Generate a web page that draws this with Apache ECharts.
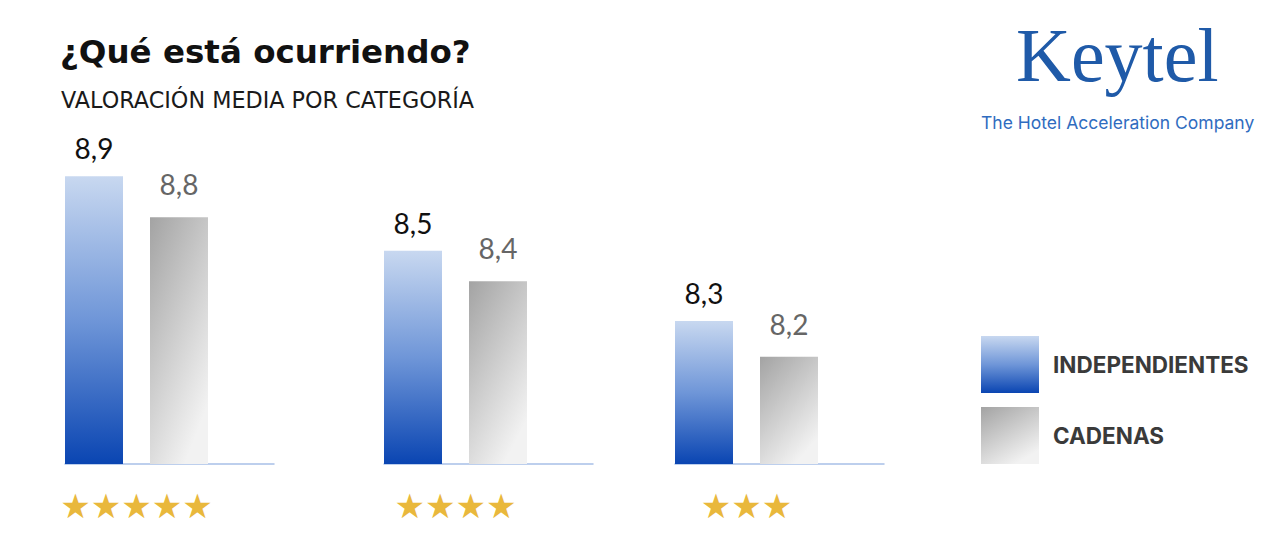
<!DOCTYPE html>
<html>
<head>
<meta charset="utf-8">
<script src="https://cdn.jsdelivr.net/npm/echarts@6/dist/echarts.min.js"></script>
<style>html,body{margin:0;padding:0;background:#fff;}#c{width:1288px;height:560px;}</style>
</head>
<body>
<div id="c"></div>
<script>
// ---- data ----
const categories = ['★★★★★', '★★★★', '★★★'];
const seriesNames = ['INDEPENDIENTES', 'CADENAS'];
const independientes = [8.9, 8.5, 8.3];
const cadenas = [8.8, 8.4, 8.2];
const titleText = '¿Qué está ocurriendo?';
const subtitleText = 'VALORACIÓN MEDIA POR CATEGORÍA';
const logoText = 'Keytel';
const taglineText = 'The Hotel Acceleration Company';

// ---- layout / scale settings (one grid per star category) ----
const gridLeft = [65, 384, 675];
const gridTop = [135, 129, 142];
const yMin = [8.2, 7.8, 7.9];
const yMax = [9.0, 8.9, 8.8];

const blueGrad = new echarts.graphic.LinearGradient(0, 0, 0, 1, [
  { offset: 0, color: '#c8d8f0' }, { offset: 0.5, color: '#6f96d8' }, { offset: 1, color: '#0a45b2' }]);
const grayGrad = new echarts.graphic.LinearGradient(0, 0, 0.6, 1, [
  { offset: 0, color: '#a3a3a3' }, { offset: 1, color: '#f2f2f2' }]);

const fmt = p => String(p.value).replace('.', ',');
const grids = [], xAxes = [], yAxes = [], series = [];
categories.forEach((cat, i) => {
  grids.push({ left: gridLeft[i], width: 209, top: gridTop[i], bottom: 96 });
  xAxes.push({
    type: 'category', gridIndex: i, data: [cat],
    axisLine: { lineStyle: { color: '#a8c0e8', width: 1.5 } },
    axisTick: { show: false },
    axisLabel: { color: '#e9b83c', fontSize: 34, fontFamily: 'DejaVu Sans', margin: 25, padding: [0, 66, 0, 0] }
  });
  yAxes.push({ type: 'value', gridIndex: i, min: yMin[i], max: yMax[i], show: false, splitLine: { show: false } });
  series.push({
    name: seriesNames[0], type: 'bar', xAxisIndex: i, yAxisIndex: i, data: [independientes[i]],
    barWidth: 58, barGap: '46.55%', itemStyle: { color: blueGrad },
    label: { show: true, position: 'top', distance: 14, formatter: fmt, fontSize: 28, color: '#111', fontFamily: 'Lato' }
  });
  series.push({
    name: seriesNames[1], type: 'bar', xAxisIndex: i, yAxisIndex: i, data: [cadenas[i]],
    barWidth: 58, barGap: '46.55%', itemStyle: { color: grayGrad },
    label: { show: true, position: 'top', distance: 19, formatter: fmt, fontSize: 28, color: '#666', fontFamily: 'Lato' }
  });
  // empty spacer column so the bar pair sits at the left of each baseline
  series.push({ name: 'spacer', type: 'bar', xAxisIndex: i, yAxisIndex: i, data: [], barWidth: 39, barGap: '46.55%', silent: true });
});

const chart = echarts.init(document.getElementById('c'), null, { renderer: 'svg' });
chart.setOption({
  animation: false,
  backgroundColor: '#ffffff',
  title: [
    { text: titleText, left: 60, top: 35, padding: 0, textStyle: { fontSize: 32.5, fontWeight: 'bold', color: '#111', fontFamily: 'DejaVu Sans' } },
    { text: subtitleText, left: 61, top: 89, padding: 0, textStyle: { fontSize: 22.3, fontWeight: 400, color: '#1a1a1a', fontFamily: 'DejaVu Sans' } },
    { text: logoText, top: 17, left: 1016, padding: 0, textStyle: { fontSize: 76, fontWeight: 400, color: '#1f5aa8', fontFamily: 'Liberation Serif' } },
    { text: taglineText, left: 981, top: 113, padding: 0, textStyle: { fontSize: 17.5, fontWeight: 400, color: '#2f6cc0', fontFamily: 'Inter' } }
  ],
  legend: {
    data: seriesNames, orient: 'vertical', left: 981, top: 336, padding: 0,
    icon: 'rect', itemWidth: 58, itemHeight: 57, itemGap: 14,
    textStyle: { fontSize: 22.5, fontWeight: 'bold', color: '#3a3a3a', fontFamily: 'Inter', padding: [0, 0, 0, 9] }
  },
  grid: grids, xAxis: xAxes, yAxis: yAxes, series: series
});
</script>
</body>
</html>
